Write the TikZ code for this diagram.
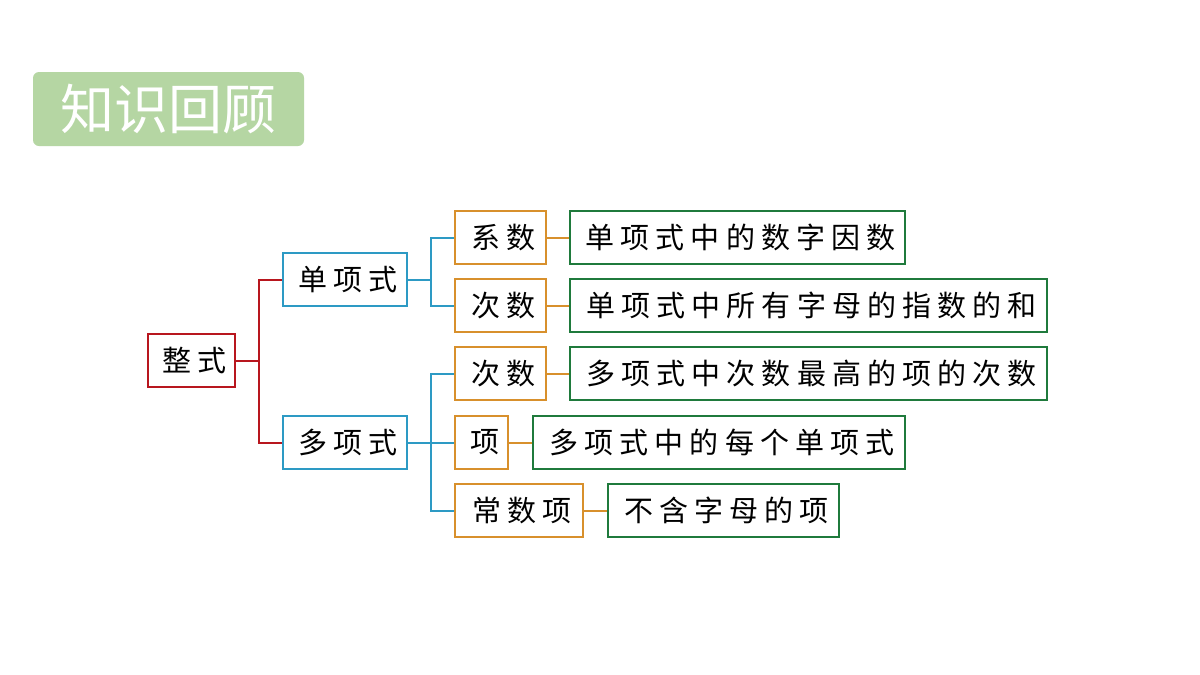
\documentclass[tikz,border=0pt]{standalone}
\usepackage{fontspec}
\setmainfont{Noto Sans CJK SC}
\newfontfamily\boxfont[LetterSpace=21]{Noto Sans CJK SC}
\newfontfamily\titlefont{Noto Sans CJK SC}
\definecolor{cred}{HTML}{B8161E}
\definecolor{cblue}{HTML}{2D9AC4}
\definecolor{corange}{HTML}{D8902C}
\definecolor{cgreen}{HTML}{1F7A3C}
\definecolor{ctitle}{HTML}{B5D6A3}
\begin{document}
\begin{tikzpicture}[x=1pt,y=-1pt,
  bx/.style={draw=#1, line width=2pt, inner sep=0pt, minimum height=53pt,
     font=\boxfont\fontsize{29}{31}\selectfont},
  ln/.style={draw=#1, line width=2pt},
]
\useasboundingbox (0,0) rectangle (1200,675);
\fill[white] (0,0) rectangle (1200,675);
% title
\node[fill=ctitle, rounded corners=6pt, minimum width=271pt, minimum height=74pt, inner sep=0pt,
  text=white, font=\titlefont\fontsize{54}{58}\selectfont] (title) at (168.5,109) {知识回顾};
% level 1
\node[bx=cred, minimum width=87pt] (zs) at (191.5,360.5) {整式\kern-6pt};
% level 2
\node[bx=cblue, minimum width=124pt] (dan) at (345,279.5) {单项式\kern-6pt};
\node[bx=cblue, minimum width=124pt] (duo) at (345,442.5) {多项式\kern-6pt};
% level 3
\node[bx=corange, minimum width=91pt] (xs) at (500.5,237.5) {系数\kern-6pt};
\node[bx=corange, minimum width=91pt] (cs1) at (500.5,305.5) {次数\kern-6pt};
\node[bx=corange, minimum width=91pt] (cs2) at (500.5,373.5) {次数\kern-6pt};
\node[bx=corange, minimum width=53pt] (xiang) at (481.5,442.5) {项\kern-6pt};
\node[bx=corange, minimum width=128pt] (csx) at (519,510.5) {常数项\kern-6pt};
% level 4
\node[bx=cgreen, minimum width=335pt] (d1) at (737.5,237.5) {单项式中的数字因数\kern-6pt};
\node[bx=cgreen, minimum width=477pt] (d2) at (808.5,305.5) {单项式中所有字母的指数的和\kern-6pt};
\node[bx=cgreen, minimum width=477pt] (d3) at (808.5,373.5) {多项式中次数最高的项的次数\kern-6pt};
\node[bx=cgreen, minimum width=372pt] (d4) at (719,442.5) {多项式中的每个单项式\kern-6pt};
\node[bx=cgreen, minimum width=231pt] (d5) at (723.5,510.5) {不含字母的项\kern-6pt};
% connectors
\coordinate (j1) at (259,360.5);
\draw[ln=cred] (zs.east) -- (j1);
\draw[ln=cred] (j1) |- (dan.west);
\draw[ln=cred] (j1) |- (duo.west);
\coordinate (j2) at (431,279.5);
\draw[ln=cblue] (dan.east) -- (j2);
\draw[ln=cblue] (j2) |- (xs.west);
\draw[ln=cblue] (j2) |- (cs1.west);
\coordinate (j3) at (431,442.5);
\draw[ln=cblue] (duo.east) -- (xiang.west);
\draw[ln=cblue] (j3) |- (cs2.west);
\draw[ln=cblue] (j3) |- (csx.west);
\draw[ln=corange] (xs.east) -- (d1.west);
\draw[ln=corange] (cs1.east) -- (d2.west);
\draw[ln=corange] (cs2.east) -- (d3.west);
\draw[ln=corange] (xiang.east) -- (d4.west);
\draw[ln=corange] (csx.east) -- (d5.west);
\end{tikzpicture}
\end{document}
